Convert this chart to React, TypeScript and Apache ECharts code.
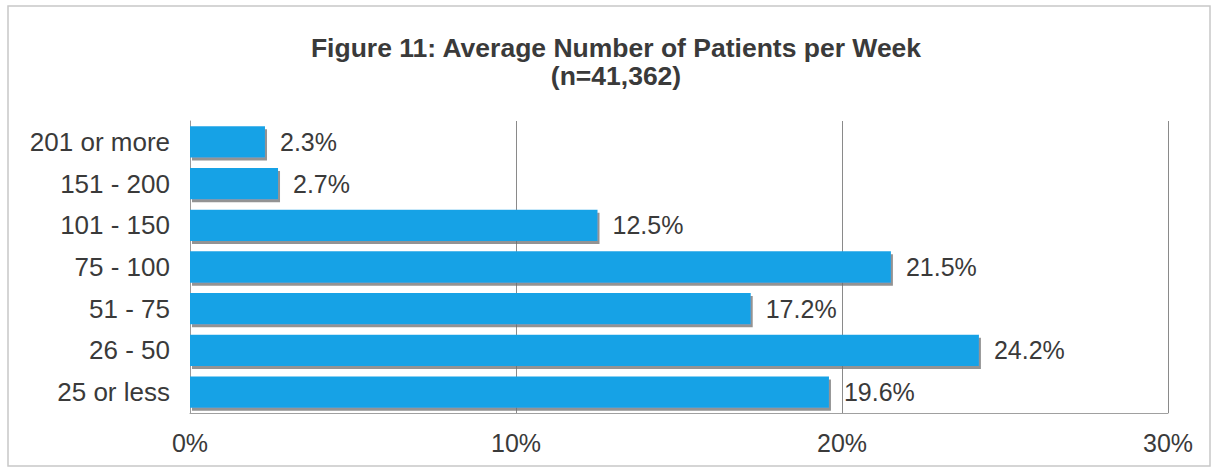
import React, { useEffect, useRef } from "react";
import * as echarts from "echarts";

const categories = ["201 or more", "151 - 200", "101 - 150", "75 - 100", "51 - 75", "26 - 50", "25 or less"];
const values = [2.3, 2.7, 12.5, 21.5, 17.2, 24.2, 19.6];
const titleLine1 = "Figure 11: Average Number of Patients per Week";
const titleLine2 = "(n=41,362)";

export default function App() {
  const ref = useRef<HTMLDivElement>(null);
  useEffect(() => {
    if (!ref.current) return;
    const chart = echarts.init(ref.current, null, { renderer: "svg" });
    const font = "'Liberation Sans', Arial, sans-serif";
    chart.setOption({
      animation: false,
      backgroundColor: "#ffffff",
      textStyle: { fontFamily: font },
      title: {
        text: titleLine1 + "\n" + titleLine2,
        left: 611,
        top: 29,
        textAlign: "center",
        textStyle: {
          fontFamily: font,
          fontSize: 26.5,
          fontWeight: "bold",
          color: "#3a3a3a",
          lineHeight: 28,
        },
      },
      graphic: [
        {
          type: "rect",
          shape: { x: 8, y: 6, width: 1202, height: 460 },
          style: { fill: "none", stroke: "#c8c8c8", lineWidth: 1.5 },
          silent: true,
        },
      ],
      grid: { left: 190, right: 49, top: 121, height: 292, containLabel: false },
      xAxis: {
        type: "value",
        min: 0,
        max: 30,
        interval: 10,
        axisLine: { show: true, lineStyle: { color: "#a0a0a0", width: 1 } },
        axisTick: { show: false },
        splitLine: { show: true, lineStyle: { color: "#8a8a8a", width: 1 } },
        axisLabel: {
          formatter: (v: number) => v + "%",
          fontSize: 25,
          color: "#3a3a3a",
          margin: 17,
          fontFamily: font,
        },
      },
      yAxis: {
        type: "category",
        data: categories,
        inverse: true,
        axisLine: { show: true, lineStyle: { color: "#9a9a9a", width: 1 } },
        axisTick: { show: false },
        axisLabel: { fontSize: 26, color: "#3a3a3a", margin: 20, fontFamily: font },
      },
      series: [
        {
          type: "bar",
          data: values,
          barCategoryGap: "25%",
          itemStyle: {
            color: "#19a2e6",
            shadowColor: "rgba(110,110,110,0.75)",
            shadowOffsetX: 2,
            shadowOffsetY: 3,
            shadowBlur: 1,
          },
          label: {
            show: true,
            position: "right",
            distance: 15,
            formatter: (p: any) => p.value.toFixed(1) + "%",
            fontSize: 25,
            color: "#3a3a3a",
            fontFamily: font,
          },
        },
      ],
    });
    return () => chart.dispose();
  }, []);
  return (
    <div
      ref={ref}
      style={{ position: "absolute", left: 0, top: 0, width: 1217, height: 472 }}
    />
  );
}
